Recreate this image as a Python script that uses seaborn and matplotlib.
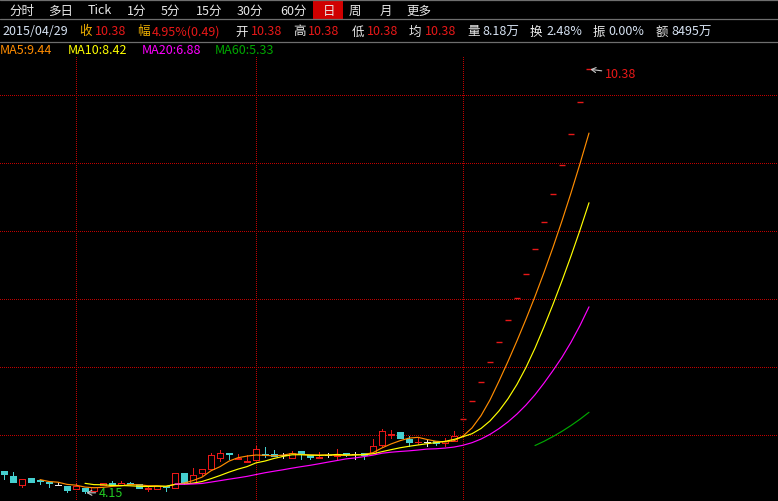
import numpy as np
import pandas as pd
import matplotlib
matplotlib.use("Agg")
import matplotlib.pyplot as plt
import seaborn as sns
from matplotlib.patches import Rectangle
from matplotlib.lines import Line2D

# ---------------- data ----------------
opens = [4.47, 4.40, 4.26, 4.37, 4.34, 4.31, 4.26, 4.25, 4.21, 4.22,
         4.18, 4.26, 4.29, 4.26, 4.29, 4.28, 4.21, 4.21, 4.25, 4.22,
         4.44, 4.29, 4.44, 4.50, 4.66, 4.74, 4.65, 4.61, 4.63, 4.72,
         4.72, 4.71, 4.66, 4.76, 4.71, 4.66, 4.71, 4.69, 4.74, 4.72,
         4.74, 4.74, 4.85, 5.00, 5.04, 4.94, 4.89, 4.90, 4.91, 4.88,
         4.91, 5.24, 5.50, 5.78, 6.07, 6.37, 6.69, 7.02, 7.37, 7.74,
         8.13, 8.54, 8.97, 9.42, 9.89, 10.38]
highs = [4.47, 4.46, 4.35, 4.37, 4.34, 4.31, 4.31, 4.25, 4.29, 4.22,
         4.24, 4.29, 4.33, 4.32, 4.31, 4.28, 4.25, 4.25, 4.25, 4.44,
         4.44, 4.51, 4.50, 4.74, 4.78, 4.74, 4.72, 4.71, 4.84, 4.82,
         4.78, 4.74, 4.76, 4.76, 4.71, 4.75, 4.74, 4.79, 4.74, 4.75,
         4.74, 4.94, 5.09, 5.07, 5.04, 4.99, 4.97, 4.93, 4.91, 4.96,
         5.06, 5.24, 5.50, 5.78, 6.07, 6.37, 6.69, 7.02, 7.37, 7.74,
         8.13, 8.54, 8.97, 9.42, 9.89, 10.38]
lows = [4.35, 4.31, 4.24, 4.31, 4.28, 4.24, 4.26, 4.16, 4.21, 4.15,
        4.18, 4.26, 4.26, 4.26, 4.28, 4.22, 4.18, 4.21, 4.18, 4.22,
        4.28, 4.29, 4.41, 4.50, 4.62, 4.65, 4.65, 4.60, 4.63, 4.68,
        4.69, 4.66, 4.66, 4.65, 4.65, 4.66, 4.68, 4.65, 4.69, 4.65,
        4.65, 4.74, 4.84, 4.96, 4.96, 4.84, 4.87, 4.84, 4.85, 4.84,
        4.91, 5.24, 5.50, 5.78, 6.07, 6.37, 6.69, 7.02, 7.37, 7.74,
        8.13, 8.54, 8.97, 9.42, 9.89, 10.38]
closes = [4.43, 4.31, 4.35, 4.31, 4.32, 4.29, 4.26, 4.19, 4.25, 4.18,
          4.24, 4.29, 4.26, 4.29, 4.28, 4.22, 4.22, 4.25, 4.24, 4.44,
          4.31, 4.41, 4.50, 4.71, 4.74, 4.72, 4.66, 4.62, 4.79, 4.71,
          4.69, 4.71, 4.74, 4.72, 4.68, 4.68, 4.71, 4.71, 4.72, 4.72,
          4.71, 4.84, 5.06, 5.01, 4.96, 4.90, 4.90, 4.90, 4.88, 4.91,
          4.99, 5.24, 5.50, 5.78, 6.07, 6.37, 6.69, 7.02, 7.37, 7.74,
          8.13, 8.54, 8.97, 9.42, 9.89, 10.38]
month_start_idx = [8, 28, 51]
price_grid = [5, 6, 7, 8, 9, 10]
ma_windows = [5, 10, 20, 60]
ma_labels = ["MA5:9.44", "MA10:8.42", "MA20:6.88", "MA60:5.33"]
toolbar_labels = ["分时", "多日", "Tick", "1分", "5分", "15分", "30分", "60分", "日", "周", "月", "更多"]
active_tab = "日"
quote_date = "2015/04/29"
quote_names = ["收", "幅", "开", "高", "低", "均", "量", "换", "振", "额"]
quote_values = ["10.38", "4.95%(0.49)", "10.38", "10.38", "10.38", "10.38",
                "8.18万", "2.48%", "0.00%", "8495万"]
high_label = "10.38"
low_label = "4.15"

# ---------------- style ----------------
W, H = 778, 502
BG = "#000000"
RED = "#e81818"
CYAN = "#45cfcf"
WHITE = "#e8e8e8"
GRID = "#c00000"
SEP = "#6e6e6e"
MA_COLORS = {"MA5": "#ff8c00", "MA10": "#ffff00", "MA20": "#ff00ff", "MA60": "#00a800"}
PX = 0.72  # one pixel in points

sns.set_theme(style="dark", rc={"axes.facecolor": BG, "figure.facecolor": BG})
plt.rcParams["font.family"] = ["Noto Sans CJK SC", "DejaVu Sans"]
FS = 9.0

fig = plt.figure(figsize=(W / 100, H / 100), dpi=100)
fig.patch.set_facecolor(BG)

def fy(ypix):
    return 1 - ypix / H

# separator lines
for yp in [0.5, 20, 42.5]:
    fig.add_artist(Line2D([0, 1], [fy(yp), fy(yp)], color=SEP, lw=0.9))

# toolbar
tool_x = [9, 48, 88, 127, 161, 196, 237, 280, 323, 349, 380, 406]
for lab, x in zip(toolbar_labels, tool_x):
    if lab == active_tab:
        fig.add_artist(Rectangle((313 / W, fy(20)), 30 / W, 19 / H,
                                 facecolor="#d00000", edgecolor="none"))
    fig.text(x / W, fy(11), lab, color=WHITE, fontsize=FS, ha="left", va="center")

# quote row
fig.text(2 / W, fy(32), quote_date, color="#d6e2f2", fontsize=FS, ha="left", va="center")
name_x = [79, 137, 235, 293, 352, 409, 467, 530, 593, 656]
val_x = [95, 152, 251, 308, 367, 425, 482, 546, 608, 671]
for i, (n, v) in enumerate(zip(quote_names, quote_values)):
    ncol = "#f0b000" if n in ("收", "幅") else WHITE
    vcol = RED if i < 6 else "#d6e2f2"
    fig.text(name_x[i] / W, fy(32), n, color=ncol, fontsize=FS, ha="left", va="center")
    fig.text(val_x[i] / W, fy(32), v, color=vcol, fontsize=FS, ha="left", va="center")

# MA legend row
ma_x = [0, 68, 142, 215]
for lab, x, key in zip(ma_labels, ma_x, MA_COLORS):
    fig.text(x / W, fy(50), lab, color=MA_COLORS[key], fontsize=FS, ha="left", va="center")

# ---------------- main axes ----------------
top_pix = 57
ax = fig.add_axes([0, 0, 1, (H - top_pix) / H])
ax.set_facecolor(BG)
px_per_bar = 9.0
px_per_unit = 68.0
ax.set_xlim(-4 / px_per_bar, (W - 4) / px_per_bar)
ax.set_ylim(10 - (H - 96) / px_per_unit, 10 + (96 - top_pix) / px_per_unit)
for s in ax.spines.values():
    s.set_visible(False)
ax.set_xticks(month_start_idx)
ax.set_yticks(price_grid)
ax.tick_params(length=0, labelleft=False, labelbottom=False)
ax.grid(True, color=GRID, linestyle=(0, (1, 2)), linewidth=PX, antialiased=False)
ax.set_axisbelow(True)

o = np.array(opens); h = np.array(highs); l = np.array(lows); c = np.array(closes)
k = np.arange(len(c))
up = c > o + 1e-9
down = c < o - 1e-9
flat = ~(up | down)
limit = flat & np.isclose(h, l)
doji = flat & ~limit

colors = np.where(up, RED, np.where(down, CYAN, np.where(limit, RED, WHITE)))
top = np.maximum(o, c)
bot = np.minimum(o, c)
BW = 0.67

ax.vlines(k, top, h, colors=colors, lw=PX, zorder=2, antialiased=False)
ax.vlines(k, l, bot, colors=colors, lw=PX, zorder=2, antialiased=False)
ax.bar(k[up], (c - o)[up], bottom=o[up], width=BW, facecolor=BG, edgecolor=RED,
       linewidth=PX, zorder=3, antialiased=False, joinstyle="miter")
ax.bar(k[down], (o - c)[down], bottom=c[down], width=BW, facecolor=CYAN, edgecolor=CYAN,
       linewidth=PX, zorder=3, antialiased=False, joinstyle="miter")
ax.hlines(c[doji], k[doji] - BW / 2, k[doji] + BW / 2, colors=WHITE, lw=PX, zorder=3,
          antialiased=False)
ax.hlines(c[limit], k[limit] - BW / 2, k[limit] + BW / 2, colors=RED, lw=1.0, zorder=3)

# moving averages
df = pd.DataFrame({"k": k, "close": c})
for w in ma_windows:
    df[f"MA{w}"] = df["close"].rolling(w).mean()
long = df.melt(id_vars="k", value_vars=[f"MA{w}" for w in ma_windows],
               var_name="ma", value_name="val").dropna()
sns.lineplot(data=long, x="k", y="val", hue="ma", palette=MA_COLORS, estimator=None,
             legend=False, lw=0.85, ax=ax, zorder=4)
ax.set_xlabel(""); ax.set_ylabel("")

# high / low annotations
ih = int(np.argmax(h)); il = int(np.argmin(l))
arrow = dict(arrowstyle="->,head_length=0.35,head_width=0.2", color="#c8c8c8", lw=0.8,
             shrinkA=0, shrinkB=1)
ax.annotate(high_label, xy=(ih, h[ih]), xytext=(11.5, -3), textcoords="offset points",
            color=RED, fontsize=FS, ha="left", va="center", arrowprops=arrow, zorder=5)
ax.annotate(low_label, xy=(il, l[il]), xytext=(10, 0), textcoords="offset points",
            color="#22cc22", fontsize=FS, ha="left", va="center", arrowprops=arrow, zorder=5)

fig.savefig("out.png", dpi=100, facecolor=BG)
